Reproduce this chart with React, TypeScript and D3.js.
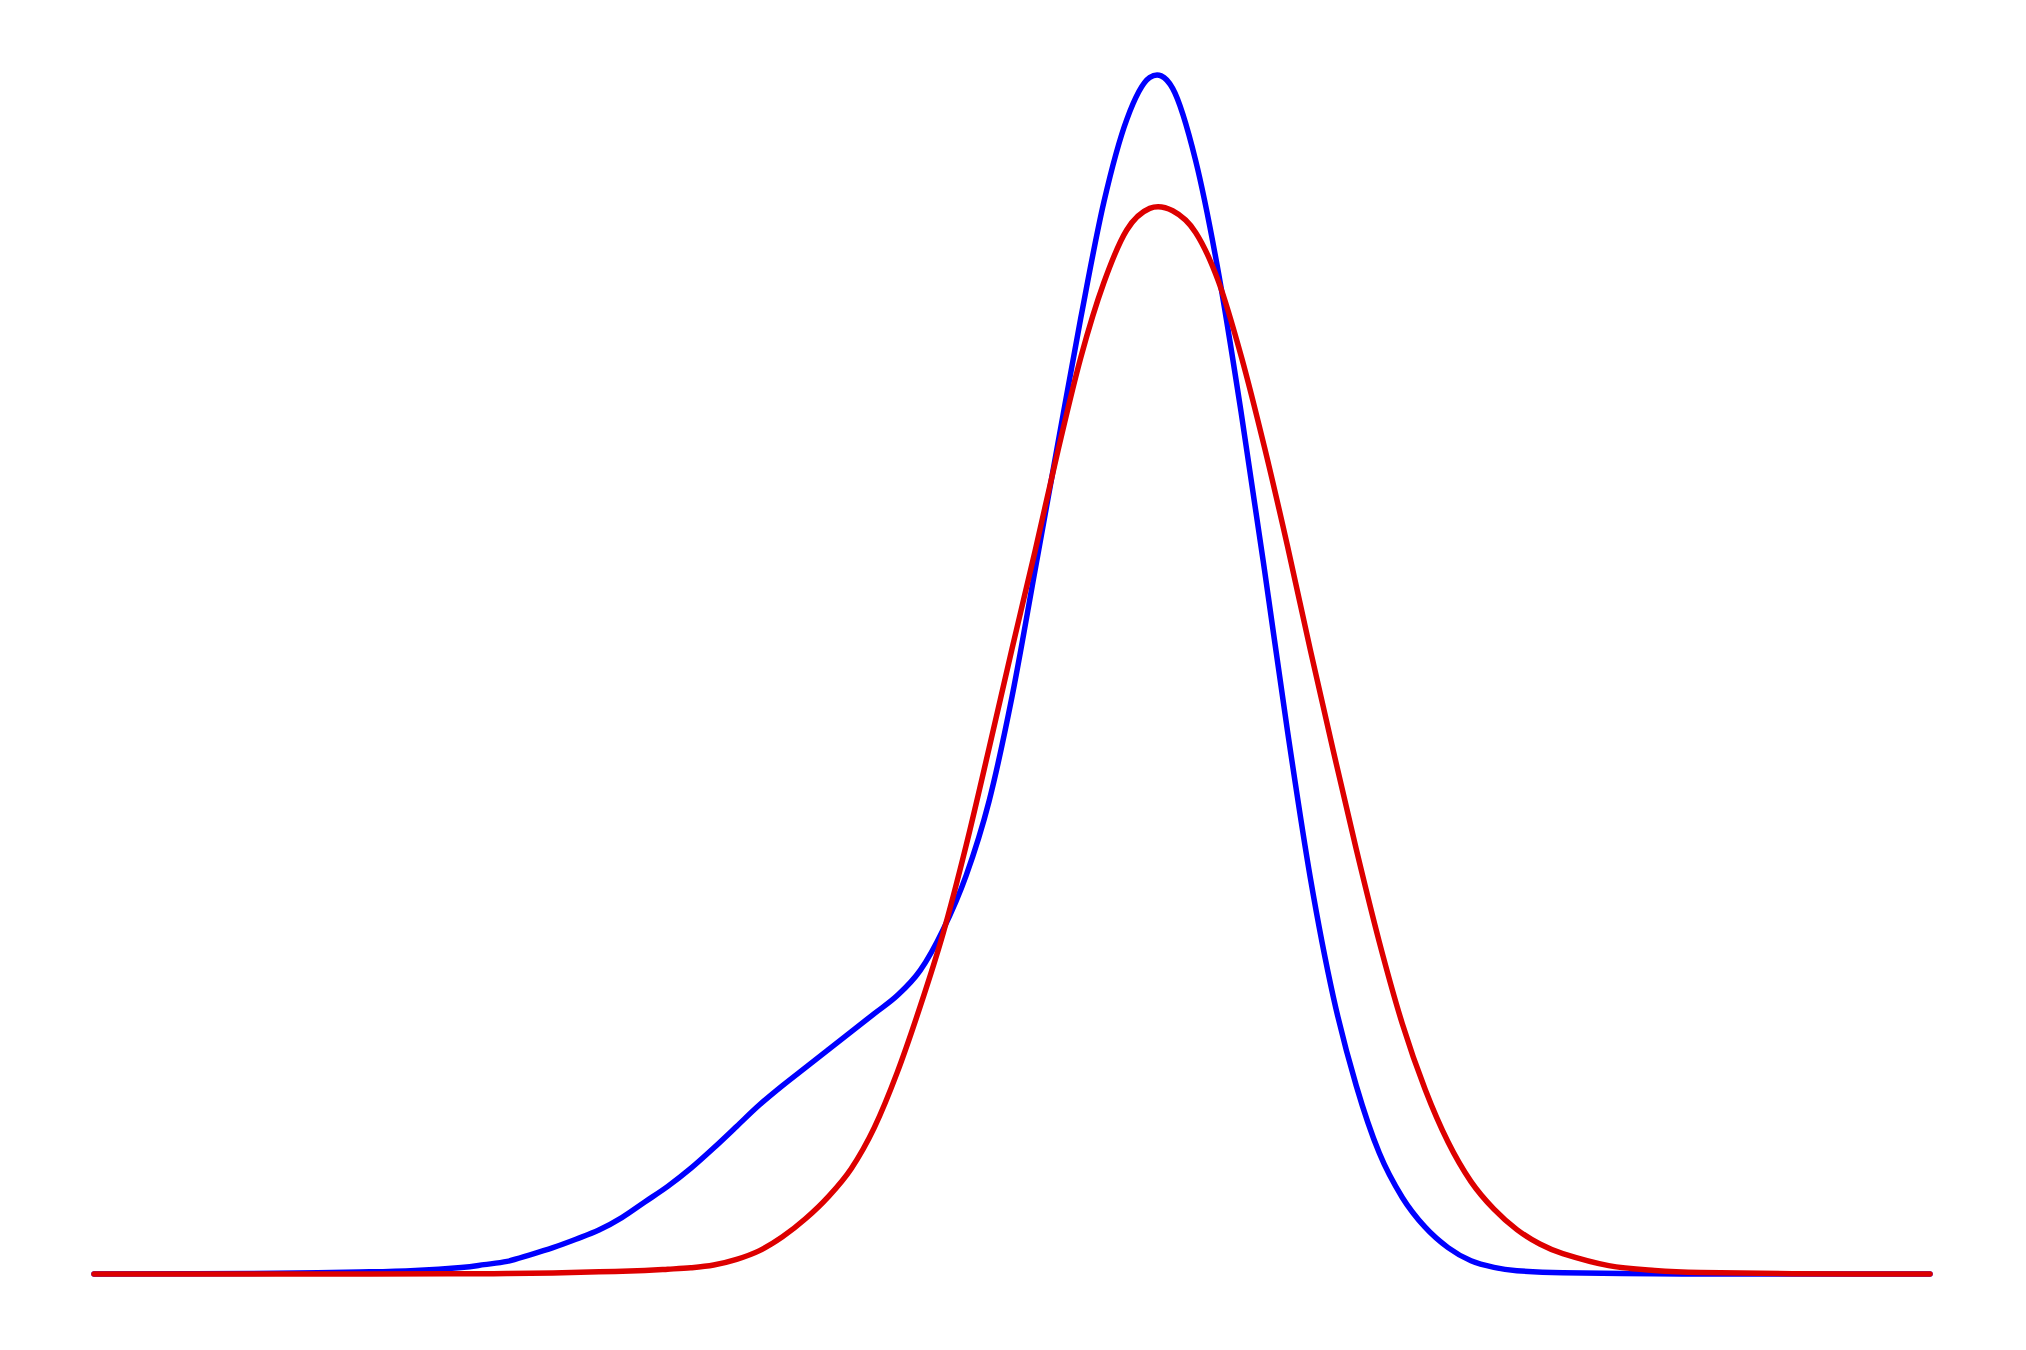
import React from 'react';
import * as d3 from 'd3';

// Densities on a regular grid (x in arbitrary units, y relative to blue peak)
const blueX = [-10, -8, -7, -6.5, -6, -5.75, -5.5, -5.25, -5, -4.75, -4.5, -4.25, -4, -3.75, -3.5, -3.25, -3, -2.75, -2.5, -2.25, -2, -1.75, -1.5, -1.25, -1, -0.75, -0.5, -0.25, 0, 0.25, 0.5, 0.75, 1, 1.25, 1.5, 1.75, 2, 2.25, 2.5, 2.75, 3, 3.25, 3.5, 3.75, 4, 4.25, 4.5, 4.75, 5, 5.25, 5.5, 6, 7, 8, 10];
const blueY = [0, 0.0006, 0.0018, 0.003, 0.0055, 0.0078, 0.0105, 0.016, 0.022, 0.029, 0.0366, 0.047, 0.06, 0.073, 0.088, 0.105, 0.123, 0.141, 0.157, 0.172, 0.187, 0.202, 0.217, 0.232, 0.253, 0.287, 0.332, 0.394, 0.481, 0.586, 0.692, 0.797, 0.893, 0.962, 0.997, 0.988, 0.928, 0.834, 0.716, 0.587, 0.453, 0.33, 0.231, 0.157, 0.101, 0.064, 0.039, 0.022, 0.011, 0.0055, 0.0028, 0.001, 0.0002, 0, 0];

const redX = [-10, -7, -6, -5.5, -5, -4.5, -4, -3.75, -3.5, -3.25, -3, -2.75, -2.5, -2.25, -2, -1.75, -1.5, -1.25, -1, -0.75, -0.5, -0.25, 0, 0.25, 0.5, 0.75, 1, 1.25, 1.5, 1.75, 2, 2.25, 2.5, 2.75, 3, 3.25, 3.5, 3.75, 4, 4.25, 4.5, 4.75, 5, 5.25, 5.5, 5.75, 6, 6.5, 7, 7.5, 8.5, 10];
const redY = [0, 0, 0.0002, 0.0004, 0.0009, 0.0018, 0.003, 0.004, 0.0052, 0.0075, 0.0122, 0.0195, 0.031, 0.046, 0.0645, 0.088, 0.122, 0.168, 0.223, 0.284, 0.357, 0.438, 0.521, 0.602, 0.686, 0.764, 0.826, 0.87, 0.888, 0.886, 0.868, 0.827, 0.764, 0.689, 0.607, 0.52, 0.436, 0.354, 0.277, 0.209, 0.154, 0.11, 0.077, 0.054, 0.037, 0.025, 0.017, 0.007, 0.003, 0.0012, 0.0002, 0];

const W = 2026;
const H = 1350;

const x = d3.scaleLinear().domain([-10, 10]).range([94, 1930]);
const y = d3.scaleLinear().domain([0, 1]).range([1274, 74]);

const line = d3.line<[number, number]>()
  .x(d => x(d[0]))
  .y(d => Math.min(y(d[1]), y(0)))
  .curve(d3.curveCatmullRom.alpha(0));

const App: React.FC = () => {
  const blue = blueX.map((v, i) => [v, blueY[i]] as [number, number]);
  const red = redX.map((v, i) => [v, redY[i]] as [number, number]);

  return (
    <div style={{ position: 'fixed', left: 0, top: 0, width: W, height: H, background: '#fff' }}>
      <svg width={W} height={H} style={{ display: 'block' }}>
        <path d={line(blue) || ''} fill="none" stroke="#0000ff" strokeWidth={5.5} strokeLinecap="round" strokeLinejoin="round" />
        <path d={line(red) || ''} fill="none" stroke="#dd0000" strokeWidth={5.5} strokeLinecap="round" strokeLinejoin="round" />
      </svg>
    </div>
  );
};

export default App;
